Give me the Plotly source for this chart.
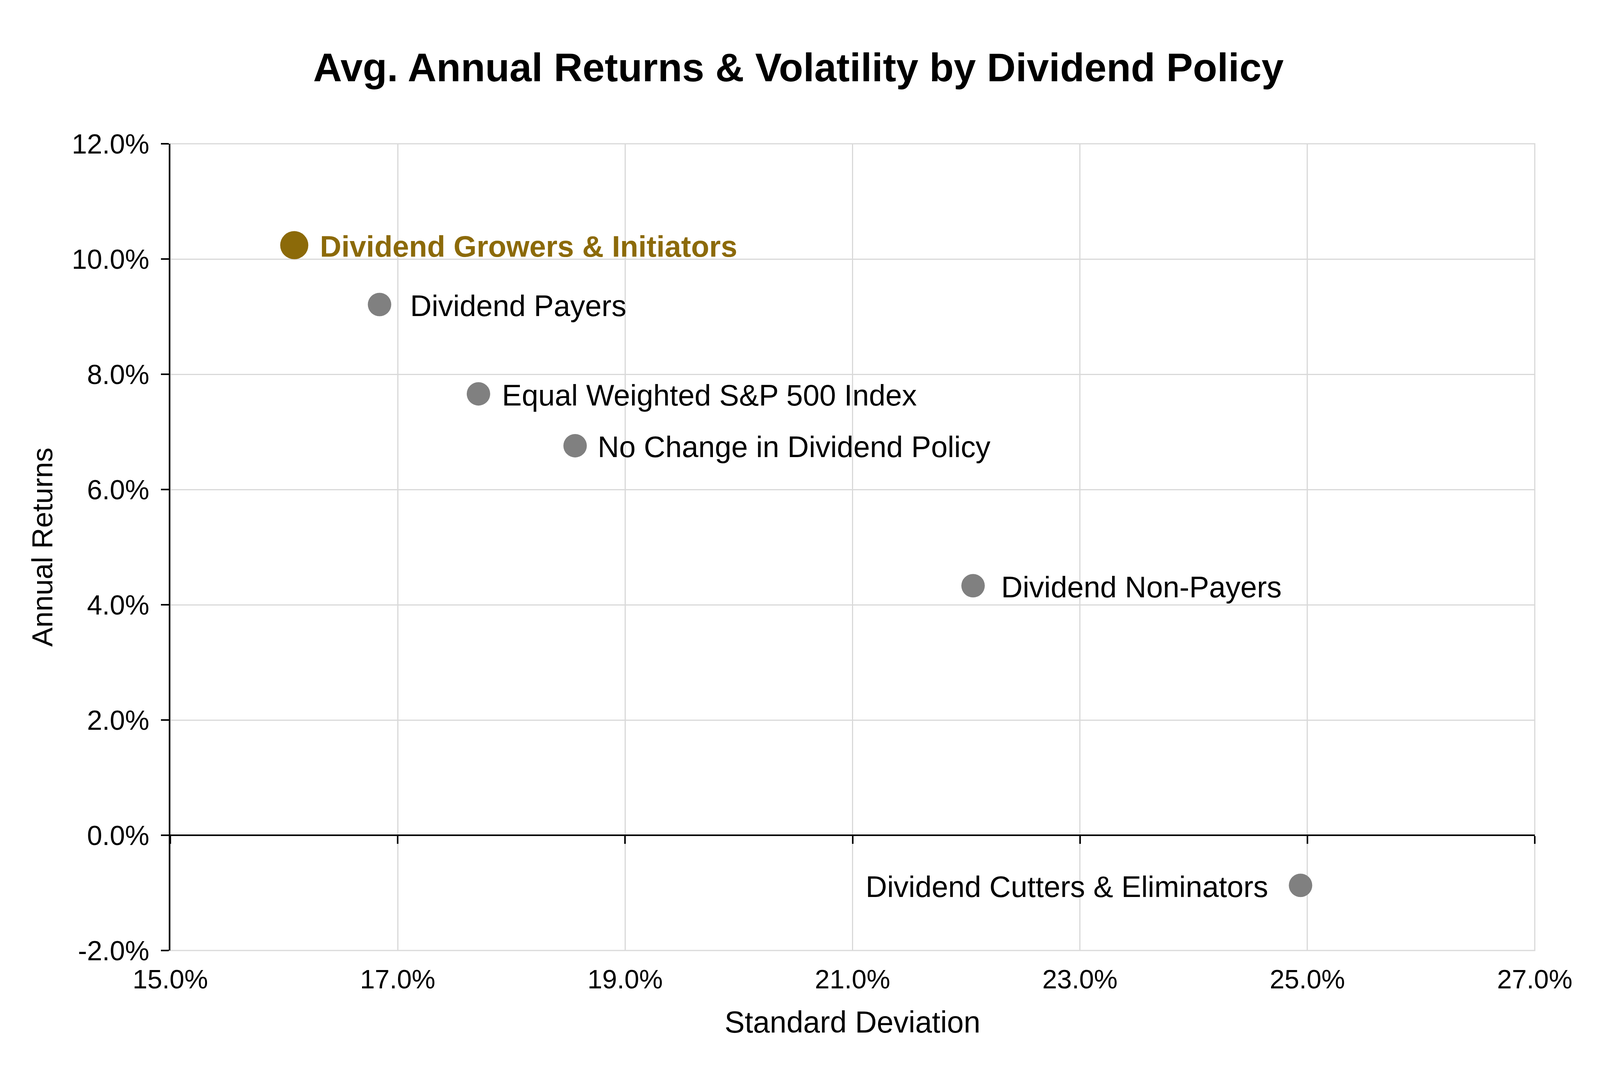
import plotly.graph_objects as go

# hodnoty (v procentech)
names = [
    "Dividend Growers & Initiators",
    "Dividend Payers",
    "Equal Weighted S&P 500 Index",
    "No Change in Dividend Policy",
    "Dividend Non-Payers",
    "Dividend Cutters & Eliminators",
]
std_dev = [16.09, 16.84, 17.71, 18.56, 22.06, 24.94]
annual_returns = [10.24, 9.21, 7.66, 6.76, 4.33, -0.87]

x_ticks = [15, 17, 19, 21, 23, 25, 27]
y_ticks = [-2, 0, 2, 4, 6, 8, 10, 12]

GOLD = "#8C6A09"
GRAY = "#808080"
GRID = "#d9d9d9"
FONT = "Liberation Sans, Arial, sans-serif"

colors = [GOLD] + [GRAY] * 5
sizes = [72] + [60] * 5
# posun popisků od bodu (px), záporné = popisek vlevo
label_shift = [64, 76, 58, 56, 70, -80]

fig = go.Figure()

fig.add_trace(go.Scatter(
    x=std_dev, y=annual_returns, mode="markers",
    marker=dict(color=colors, size=sizes, opacity=1, line=dict(width=0)),
    hoverinfo="skip", showlegend=False,
))

# pomocná neviditelná stopa pro osu s nulovou čarou a značkami
fig.add_trace(go.Scatter(
    x=std_dev, y=annual_returns, mode="markers", xaxis="x2",
    marker=dict(opacity=0), hoverinfo="skip", showlegend=False,
))

# popisky bodů
for i, (name, xv, yv) in enumerate(zip(names, std_dev, annual_returns)):
    shift = label_shift[i]
    fig.add_annotation(
        x=xv, y=yv, text=f"<b>{name}</b>" if i == 0 else name,
        showarrow=False, xanchor="right" if shift < 0 else "left", yanchor="middle",
        xshift=shift, yshift=-3,
        font=dict(family=FONT, size=76, color=GOLD if i == 0 else "black"),
    )

# rámeček plochy grafu (šedý)
fig.add_shape(type="rect", xref="paper", yref="paper", x0=0, x1=1, y0=0, y1=1,
              line=dict(color=GRID, width=3), layer="below")

fig.update_layout(
    width=4100, height=2744,
    margin=dict(l=428, r=179, t=360, b=319),
    paper_bgcolor="white", plot_bgcolor="white",
    font=dict(family=FONT, color="black"),
    title=dict(
        text="<b>Avg. Annual Returns & Volatility by Dividend Policy</b>",
        x=2036 / 4100, xanchor="center", y=1 - 164 / 2744, yanchor="middle",
        font=dict(family=FONT, size=102, color="black"),
    ),
    xaxis=dict(
        range=[15, 27], tickvals=x_ticks,
        ticktext=[f"{v:.1f}%" for v in x_ticks],
        showgrid=True, gridcolor=GRID, gridwidth=3,
        showline=False, zeroline=False, ticks="",
        ticklabelstandoff=28,
        tickfont=dict(family=FONT, size=68, color="black"),
        title=dict(text="Standard Deviation", standoff=46,
                   font=dict(family=FONT, size=77, color="black")),
    ),
    xaxis2=dict(
        range=[15, 27], tickvals=x_ticks, overlaying="x",
        anchor="free", position=2 / 14, side="bottom",
        showgrid=False, zeroline=False, showticklabels=False,
        showline=True, linecolor="black", linewidth=3.5,
        ticks="outside", ticklen=20, tickwidth=3.5, tickcolor="black",
    ),
    yaxis=dict(
        range=[-2, 12], tickvals=y_ticks,
        ticktext=[f"{v:.1f}%" for v in y_ticks],
        showgrid=True, gridcolor=GRID, gridwidth=3,
        showline=True, linecolor="black", linewidth=3.5, zeroline=False,
        ticks="outside", ticklen=20, tickwidth=3.5, tickcolor="black",
        ticklabelstandoff=16,
        tickfont=dict(family=FONT, size=70, color="black"),
        title=dict(text="Annual Returns", standoff=26,
                   font=dict(family=FONT, size=74, color="black")),
    ),
)

fig.write_html("out.html")
